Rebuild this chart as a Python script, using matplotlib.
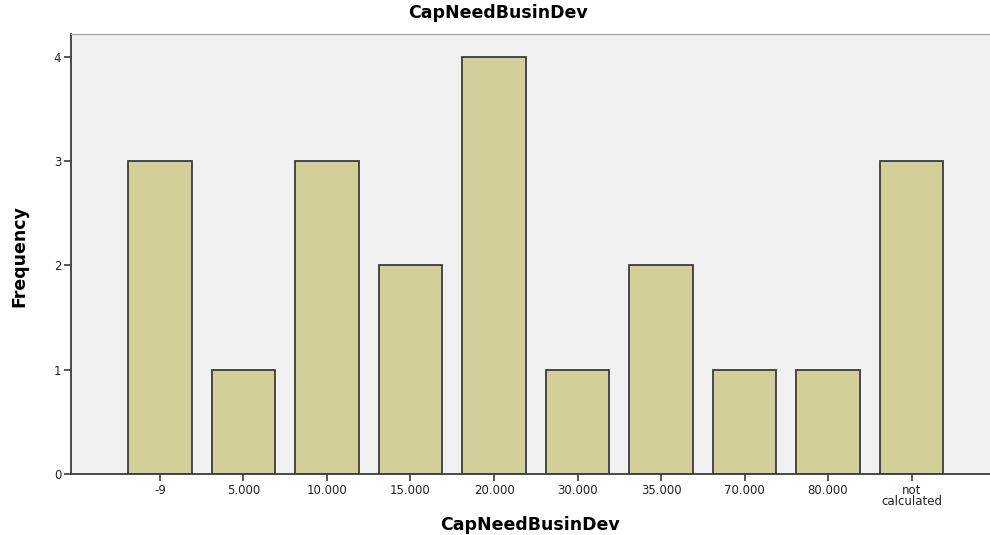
import numpy as np
import matplotlib
matplotlib.use("Agg")
import matplotlib.pyplot as plt

plt.rcParams['font.family'] = ['DejaVu Sans']

categories = ["-9", "5.000", "10.000", "15.000", "20.000", "30.000",
              "35.000", "70.000", "80.000", "not\ncalculated"]
frequency = [3, 1, 3, 2, 4, 1, 2, 1, 1, 3]

fig = plt.figure(figsize=(9.9, 5.35), dpi=100)
ax = fig.add_axes([0.0717, 0.114, 0.9283, 0.8224])
ax.set_facecolor('#f0f0f0')

x = np.arange(len(categories))
ax.bar(x, frequency, width=0.755, color='#d3cf98', edgecolor='#3c3c3c',
       linewidth=1.3, zorder=2)

ax.set_xlim(-1.066, 9.94)
ax.set_ylim(0, 4.22)
ax.set_xticks(x)
ax.set_xticklabels(categories, fontsize=8.5, linespacing=0.8)
ax.set_yticks([0, 1, 2, 3, 4])
ax.tick_params(axis='both', length=5, width=1.2, color='#3c3c3c',
               labelsize=8.5, pad=2, labelcolor='#222222')
for s in ['left', 'bottom']:
    ax.spines[s].set_color('#3c3c3c')
    ax.spines[s].set_linewidth(1.3)
ax.spines['top'].set_color('#a0a0a0')
ax.spines['right'].set_visible(False)

fig.text(0.535, 0.019, 'CapNeedBusinDev', ha='center', va='center',
         fontsize=12.5, fontweight='bold')
fig.text(0.020, 0.521, 'Frequency', ha='center', va='center', rotation=90,
         fontsize=12.5, fontweight='bold')
fig.text(0.503, 0.976, 'CapNeedBusinDev', ha='center', va='center',
         fontsize=12.5, fontweight='bold')

fig.savefig('out.png', dpi=100)
